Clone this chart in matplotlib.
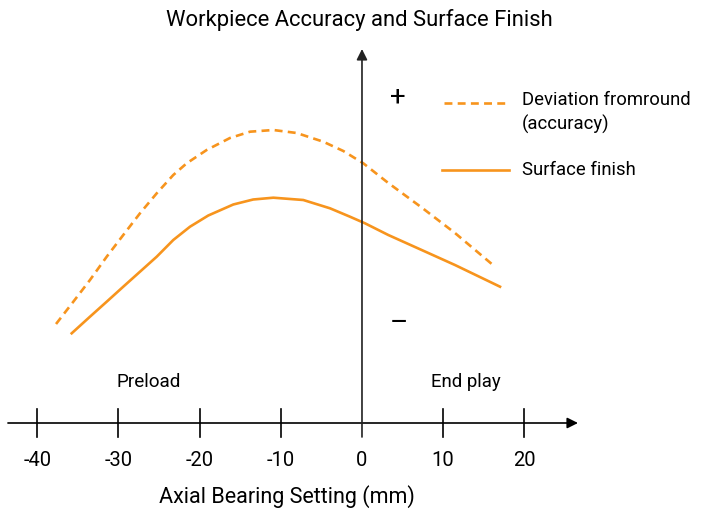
import matplotlib
matplotlib.use("Agg")
import matplotlib.pyplot as plt

plt.rcParams["font.family"] = ["Roboto", "DejaVu Sans"]

# Axial bearing setting (mm) and relative quality curves
dev_x = [-37.68, -35.55, -33.50, -31.44, -29.40, -27.34, -25.28, -23.24, -21.59,
         -19.13, -16.26, -13.79, -10.92, -8.04, -4.77, -2.30, 0.16, 3.24, 7.35,
         11.45, 16.38]
dev_y = [9.90, 12.13, 14.30, 16.63, 18.80, 20.97, 22.97, 24.80, 25.97,
         27.30, 28.50, 29.13, 29.30, 29.00, 28.13, 27.20, 25.97, 24.00, 21.55,
         19.00, 15.63]

surf_x = [-35.75, -33.50, -31.44, -29.40, -27.34, -25.28, -23.24, -21.18, -18.93,
          -15.85, -13.4, -10.92, -7.23, -3.94, -1.48, 0.37, 3.24, 7.35, 11.45, 17.0]
surf_y = [8.97, 10.63, 12.13, 13.63, 15.13, 16.63, 18.30, 19.63, 20.75,
          21.85, 22.35, 22.53, 22.30, 21.47, 20.63, 19.97, 18.80, 17.30, 15.80, 13.63]

xticks = [-40, -30, -20, -10, 0, 10, 20]

ORANGE = "#F7941D"

fig = plt.figure(figsize=(7.07, 5.11), dpi=100)
ax = fig.add_axes([0, 0, 1, 1])
ax.set_xlim(-44.58, 42.49)
ax.set_ylim(-8.8, 42.3)
ax.axis("off")

# axes with arrow heads
ax.annotate("", xy=(26.6, 0), xytext=(-43.6, 0),
            arrowprops=dict(arrowstyle="-|>", color="black", lw=1.2,
                            mutation_scale=16, shrinkA=0, shrinkB=0))
ax.annotate("", xy=(0, 37.4), xytext=(0, -1.4),
            arrowprops=dict(arrowstyle="-|>", color="#222222", lw=1.2,
                            mutation_scale=16, shrinkA=0, shrinkB=0))

for t in xticks:
    if t != 0:
        ax.plot([t, t], [-1.4, 1.4], color="black", lw=1.2)
    ax.text(t, -3.7, f"{t}", ha="center", va="center", fontsize=14.5)

ax.text(-9.2, -7.4, "Axial Bearing Setting (mm)", ha="center", va="center", fontsize=15.5)
ax.text(-0.3, 40.3, "Workpiece Accuracy and Surface Finish", ha="center", va="center", fontsize=15.8)

# curves
ax.plot(dev_x, dev_y, color=ORANGE, lw=1.9, dashes=(3, 2), solid_joinstyle="round")
ax.plot(surf_x, surf_y, color=ORANGE, lw=1.9, solid_joinstyle="round")

# annotations
ax.text(-26.3, 4.1, "Preload", ha="center", va="center", fontsize=13.6)
ax.text(12.8, 4.1, "End play", ha="center", va="center", fontsize=13.4)
ax.text(4.4, 32.6, "+", ha="center", va="center", fontsize=20)
ax.text(4.5, 10.0, "\u2013", ha="center", va="center", fontsize=20)

# legend drawn by hand
LFS = 13.3
ax.plot([10.1, 17.9], [32.0, 32.0], color=ORANGE, lw=1.9, dashes=(3, 2))
ax.text(19.7, 32.3, "Deviation fromround", ha="left", va="center", fontsize=LFS)
ax.text(19.7, 29.9, "(accuracy)", ha="left", va="center", fontsize=LFS)
ax.plot([9.9, 18.1], [25.3, 25.3], color=ORANGE, lw=1.9)
ax.text(19.7, 25.3, "Surface finish", ha="left", va="center", fontsize=LFS)

fig.savefig("out.png", dpi=100)
